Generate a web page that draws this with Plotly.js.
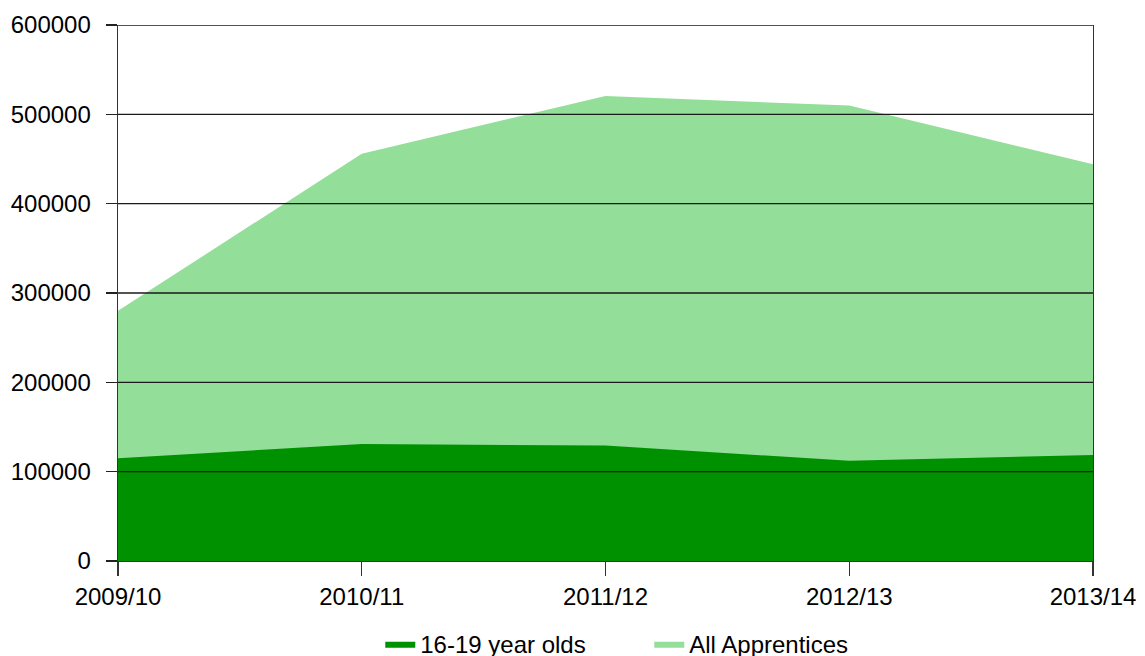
<!DOCTYPE html>
<html>
<head>
<meta charset="utf-8">
<script src="https://cdn.plot.ly/plotly-3.0.1.min.js"></script>
<style>html,body{margin:0;padding:0;background:#fff;}#chart{width:1145px;height:656px;}</style>
</head>
<body>
<div id="chart"></div>
<script>
var years = ['2009/10', '2010/11', '2011/12', '2012/13', '2013/14'];
var allApprentices = [280000, 456000, 520500, 509800, 444000];
var youngApprentices = [115000, 131000, 129200, 112300, 118600];
var yTicks = [0, 100000, 200000, 300000, 400000, 500000, 600000];

var traces = [
  {
    x: years, y: allApprentices, name: 'All Apprentices', type: 'scatter', mode: 'lines',
    fill: 'tozeroy', fillcolor: '#93df99', line: {width: 0, color: '#93df99'},
    legendrank: 2, hoverinfo: 'x+y+name'
  },
  {
    x: years, y: youngApprentices, name: '16-19 year olds', type: 'scatter', mode: 'lines',
    fill: 'tozeroy', fillcolor: '#009100', line: {width: 0, color: '#009100'},
    legendrank: 1, hoverinfo: 'x+y+name'
  }
];

var gridShapes = yTicks.filter(function(v){return v > 0;}).map(function(v){
  return {type: 'line', xref: 'paper', x0: 0, x1: 1, yref: 'y', y0: v, y1: v,
          layer: 'above', line: {color: '#1a1a1a', width: 1.4}};
});

var layout = {
  width: 1145, height: 656,
  margin: {l: 118, r: 52, t: 25, b: 95, autoexpand: false},
  paper_bgcolor: '#ffffff', plot_bgcolor: '#ffffff',
  font: {family: '"Liberation Sans", Arial, sans-serif', size: 24, color: '#000'},
  showlegend: true,
  legend: {
    orientation: 'h', x: 0.269, xanchor: 'left', y: -0.155, yanchor: 'middle',
    font: {size: 24, color: '#000'}, entrywidth: 224, entrywidthmode: 'pixels',
    bgcolor: 'rgba(0,0,0,0)'
  },
  xaxis: {
    type: 'category', range: [0, 4], showgrid: false, zeroline: false,
    showline: true, linecolor: '#333', linewidth: 1.4, layer: 'above traces',
    ticks: 'outside', ticklen: 14, tickcolor: '#333', tickwidth: 1.4,
    ticklabelstandoff: 0,
    tickfont: {size: 24, color: '#000'}, fixedrange: true
  },
  yaxis: {
    range: [0, 600000], tickvals: yTicks, tickformat: 'd', showgrid: false, zeroline: false,
    showline: true, mirror: true, linecolor: '#333', linewidth: 1.4, layer: 'above traces',
    ticks: 'outside', ticklen: 11, tickcolor: '#222', tickwidth: 1.4,
    ticklabelstandoff: 10,
    tickfont: {size: 24, color: '#000'}, fixedrange: true
  },
  shapes: gridShapes
};

Plotly.newPlot('chart', traces, layout, {displayModeBar: false, staticPlot: true});
</script>
</body>
</html>
